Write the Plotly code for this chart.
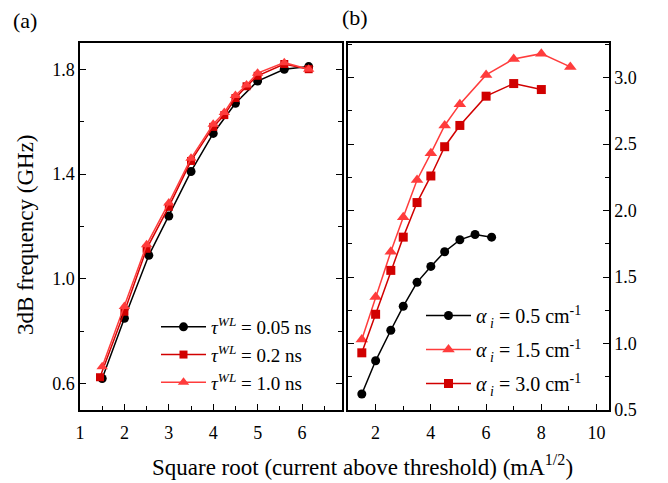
import plotly.graph_objects as go

W, H = 668, 483

# ---- Panel (a) data ----
a_x_005 = [1.5, 2.0, 2.55, 3.0, 3.5, 4.0, 4.5, 5.0, 5.6, 6.15]
a_y_005 = [0.62, 0.85, 1.09, 1.24, 1.41, 1.555, 1.67, 1.755, 1.80, 1.81]
a_x_02 = [1.45, 2.0, 2.5, 3.0, 3.5, 4.0, 4.25, 4.5, 4.75, 5.0, 5.6, 6.15]
a_y_02 = [0.625, 0.875, 1.115, 1.275, 1.45, 1.58, 1.625, 1.69, 1.735, 1.775, 1.82, 1.80]
a_x_10 = [1.5, 2.0, 2.5, 3.0, 3.5, 4.0, 4.25, 4.5, 4.75, 5.0, 5.6, 6.15]
a_y_10 = [0.665, 0.895, 1.13, 1.29, 1.46, 1.59, 1.635, 1.70, 1.74, 1.785, 1.825, 1.80]

# ---- Panel (b) data ----
b_x_05 = [1.5, 2.0, 2.55, 3.0, 3.5, 4.0, 4.5, 5.05, 5.6, 6.2]
b_y_05 = [0.62, 0.87, 1.10, 1.28, 1.46, 1.58, 1.69, 1.78, 1.82, 1.80]
b_x_15 = [1.5, 2.0, 2.55, 3.0, 3.5, 4.0, 4.5, 5.05, 6.0, 7.0, 8.0, 9.05]
b_y_15 = [1.03, 1.35, 1.69, 1.95, 2.23, 2.43, 2.64, 2.80, 3.02, 3.14, 3.18, 3.08]
b_x_30 = [1.5, 2.0, 2.55, 3.0, 3.5, 4.0, 4.5, 5.05, 6.0, 7.0, 8.0]
b_y_30 = [0.93, 1.22, 1.55, 1.80, 2.06, 2.26, 2.48, 2.64, 2.86, 2.955, 2.91]

a_names = ["<i>τ</i><sup><i>WL</i></sup> = 0.05 ns",
           "<i>τ</i><sup><i>WL</i></sup> = 0.2 ns",
           "<i>τ</i><sup><i>WL</i></sup> = 1.0 ns"]
b_names = ["<i>α<sub> i</sub></i> = 0.5 cm<sup>-1</sup>",
           "<i>α<sub> i</sub></i> = 1.5 cm<sup>-1</sup>",
           "<i>α<sub> i</sub></i> = 3.0 cm<sup>-1</sup>"]

BLACK = "#000000"
DRED = "#d10000"
LRED = "#ff3c3c"
FONT = "Liberation Serif"

fig = go.Figure()

def add(x, y, name, color, symbol, size, xa, ya, legend, grp):
    fig.add_trace(go.Scatter(
        x=x, y=y, name=name, mode="lines+markers",
        line=dict(color=color, width=1.5),
        marker=dict(color=color, symbol=symbol, size=size),
        xaxis=xa, yaxis=ya, legend=legend, legendgroup=grp))

add(a_x_005, a_y_005, a_names[0], BLACK, "circle", 9, "x", "y", "legend", "a1")
add(a_x_02, a_y_02, a_names[1], DRED, "square", 8, "x", "y", "legend", "a2")
add(a_x_10, a_y_10, a_names[2], LRED, "triangle-up", 10, "x", "y", "legend", "a3")

add(b_x_05, b_y_05, b_names[0], BLACK, "circle", 9, "x2", "y2", "legend2", "b1")
add(b_x_15, b_y_15, b_names[1], LRED, "triangle-up", 11, "x2", "y2", "legend2", "b2")
add(b_x_30, b_y_30, b_names[2], DRED, "square", 9, "x2", "y2", "legend2", "b3")

def px_x(p):
    return p / W

def px_y(p):
    return 1 - p / H

common_axis = dict(
    showline=True, linecolor="black", linewidth=1.5, mirror=True,
    ticks="inside", ticklen=6, tickwidth=1.2, tickcolor="black",
    showgrid=False, zeroline=False, automargin=False,
    tickfont=dict(family=FONT, size=18, color="black"),
)

fig.update_layout(
    template="none",
    width=W, height=H,
    margin=dict(l=0, r=0, t=0, b=0, pad=0),
    paper_bgcolor="white", plot_bgcolor="white",
    font=dict(family=FONT, color="black"),
    xaxis=dict(domain=[px_x(80), px_x(342)], range=[1, 6.9],
               tick0=1, dtick=1, ticklabelstandoff=6,
               minor=dict(dtick=0.5, ticks="inside", ticklen=4, tickcolor="black"),
               **common_axis),
    yaxis=dict(domain=[px_y(410), px_y(43)], range=[0.5, 1.9],
               tick0=0.6, dtick=0.4, tickformat=".1f",
               minor=dict(dtick=0.2, ticks="inside", ticklen=4, tickcolor="black"),
               anchor="x", **{**common_axis, "mirror": "ticks"}),
    xaxis2=dict(domain=[px_x(348), px_x(609)], range=[1, 10.45],
                tick0=0, dtick=2, ticklabelstandoff=6,
                minor=dict(dtick=1, ticks="inside", ticklen=4, tickcolor="black"),
                anchor="y2", **common_axis),
    yaxis2=dict(domain=[px_y(410), px_y(43)], range=[0.5, 3.26],
                tick0=0.5, dtick=0.5, tickformat=".1f", side="right",
                minor=dict(dtick=0.25, ticks="inside", ticklen=4, tickcolor="black"),
                anchor="x2", **{**common_axis, "mirror": "ticks"}),
    legend=dict(x=px_x(156), y=px_y(308), xanchor="left", yanchor="top",
                bgcolor="rgba(0,0,0,0)", tracegroupgap=0, itemwidth=45,
                font=dict(family=FONT, size=19, color="black")),
    legend2=dict(x=px_x(421), y=px_y(296), xanchor="left", yanchor="top",
                 bgcolor="rgba(0,0,0,0)", tracegroupgap=5, itemwidth=45,
                 font=dict(family=FONT, size=20, color="black")),
    showlegend=True,
    annotations=[
        dict(text="(a)", x=px_x(25), y=px_y(20), xref="paper", yref="paper",
             xanchor="center", yanchor="middle",
             showarrow=False, font=dict(family=FONT, size=22)),
        dict(text="(b)", x=px_x(355), y=px_y(17), xref="paper", yref="paper",
             xanchor="center", yanchor="middle",
             showarrow=False, font=dict(family=FONT, size=22)),
        dict(text="Square root (current above threshold) (mA<sup>1/2</sup>)",
             x=px_x(362), y=px_y(465), xref="paper", yref="paper",
             xanchor="center", yanchor="middle",
             showarrow=False, font=dict(family=FONT, size=23)),
        dict(text="3dB frequency (GHz)", textangle=-90,
             x=px_x(25), y=px_y(235), xref="paper", yref="paper",
             xanchor="center", yanchor="middle",
             showarrow=False, font=dict(family=FONT, size=23)),
    ],
)

fig.write_html("out.html")
